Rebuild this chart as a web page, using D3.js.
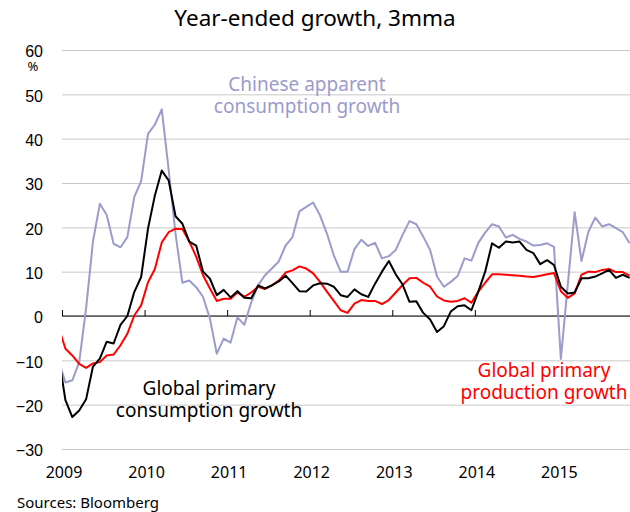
<!DOCTYPE html>
<html>
<head>
<meta charset="utf-8">
<script src="https://cdn.jsdelivr.net/npm/d3@7"></script>
<style>
  body { margin: 0; background: #fff; }
  svg { display: block; font-family: "Noto Sans", sans-serif; }
</style>
</head>
<body>
<svg id="chart" width="630" height="512"></svg>
<script>
// monthly values, Dec 2008 .. Nov 2015 (year-ended growth, 3mma, %)
const firstMonth = { year: 2008, month: 11 };

const china = [-10, -15, -14.5, -10.4, 1.7, 16.8, 25.3, 22.8, 16.3, 15.5, 17.8, 26.8, 30.4,
  41.1, 43.2, 46.6, 33, 18.5, 7.5, 8.0, 6.5, 4.3, -0.6, -8.5, -5.1,
  -6.0, -0.3, -2.0, 3.1, 6.9, 9.2, 10.7, 12.3, 15.9, 17.8, 23.6, 24.6,
  25.6, 22.7, 18.6, 13.7, 10.0, 10.0, 15.1, 17.2, 15.8, 16.5, 13.0, 13.5,
  14.9, 18.3, 21.4, 20.7, 17.9, 14.9, 8.9, 6.6, 7.7, 9.0, 13.0, 12.5,
  16.5, 18.8, 20.7, 20.2, 17.7, 18.3, 17.4, 16.8, 15.9, 16.0, 16.4, 15.6,
  -9.7, 7.0, 23.4, 12.4, 19.0, 22.2, 20.2, 20.7, 19.8, 18.9, 16.4];

const consumption = [-9, -19, -22.8, -21.3, -18.8, -11.4, -9.6, -5.8, -6.2, -2.0, 0, 5.4, 8.8,
  19.7, 27.2, 32.8, 30.6, 22.5, 20.8, 16.8, 15.9, 10.0, 8.4, 4.7, 5.9,
  4.2, 5.6, 4.1, 4.0, 6.9, 6.2, 6.9, 7.8, 9.1, 7.4, 5.6, 5.5,
  6.9, 7.4, 7.3, 6.6, 4.7, 4.3, 6.0, 4.9, 4.3, 7.3, 10.0, 12.4,
  9.4, 7.1, 3.2, 3.3, 0.7, -0.8, -3.6, -2.3, 1.0, 2.2, 2.4, 1.3,
  5.5, 10.0, 16.4, 15.4, 16.8, 16.6, 16.8, 14.9, 14.2, 11.7, 12.6, 11.5,
  6.6, 5.1, 5.3, 8.5, 8.5, 8.9, 9.6, 10.4, 8.6, 9.3, 8.6];

const production = [-2.5, -7.4, -8.9, -10.8, -11.7, -10.7, -10.4, -8.9, -8.7, -6.6, -4.0, 0.1, 2.4,
  7.6, 10.6, 16.6, 18.9, 19.7, 19.6, 16.8, 13.4, 9.2, 6.2, 3.4, 3.9,
  3.9, 5.3, 4.3, 5.3, 6.6, 6.1, 6.9, 8.0, 9.8, 10.3, 11.2, 10.7,
  9.6, 7.7, 5.5, 3.4, 1.3, 0.7, 2.8, 3.6, 3.4, 3.4, 2.7, 3.6,
  5.3, 7.0, 8.5, 8.6, 7.5, 6.6, 4.4, 3.5, 3.2, 3.4, 4.0, 3.0,
  5.5, 7.5, 9.4, 9.4, 9.3, 9.2, 9.1, 8.9, 8.8, 9.1, 9.4, 9.7,
  5.6, 4.1, 5.1, 9.3, 10.0, 9.9, 10.4, 10.6, 9.9, 9.9, 9.1];

const yTicks = [-30, -20, -10, 0, 10, 20, 30, 40, 50, 60];
const yearTicks = [2009, 2010, 2011, 2012, 2013, 2014, 2015];

const W = 630, H = 512;
const plot = { left: 62, right: 630, top: 50, bottom: 449 };

const svg = d3.select('#chart');

const x = d3.scaleLinear().domain([2009, 2016]).range([62, 640]);
const y = d3.scaleLinear().domain([-30, 60]).range([plot.bottom, plot.top]);

// mid-month position of the i-th value
const monthTime = i => firstMonth.year + (firstMonth.month + i + 0.5) / 12;

svg.append('text')
  .attr('x', W / 2).attr('y', 26)
  .attr('text-anchor', 'middle')
  .style('font-size', '22.5px')
  .text('Year-ended growth, 3mma');

// gridlines + y labels
const yAxis = d3.axisLeft(y)
  .tickValues(yTicks)
  .tickSize(-(plot.right - plot.left))
  .tickPadding(19);

const gy = svg.append('g')
  .attr('transform', `translate(${plot.left},0)`)
  .call(yAxis);
gy.select('.domain').remove();
gy.selectAll('.tick line').attr('stroke', '#c8c8c8').attr('stroke-width', 1);
gy.selectAll('.tick text')
  .style('font-size', '16px')
  .attr('fill', '#000')
  .attr('dy', '0.42em');

svg.append('text')
  .attr('x', 33).attr('y', 71)
  .attr('text-anchor', 'middle')
  .style('font-size', '13px')
  .text('%');

// zero line with year ticks
const gx = svg.append('g')
  .attr('transform', `translate(0,${y(0)})`)
  .call(d3.axisTop(x).tickValues(yearTicks).tickSize(6).tickFormat(''));
gx.select('.domain').attr('d', `M${plot.left},0H${plot.right}`).attr('stroke', '#000');
gx.selectAll('.tick line').attr('stroke', '#000');

// year labels along the bottom
svg.append('g').selectAll('text')
  .data(yearTicks)
  .join('text')
  .attr('x', d => x(d) + 2)
  .attr('y', 478)
  .attr('text-anchor', 'middle')
  .style('font-size', '16px')
  .text(d => d);

svg.append('defs').append('clipPath').attr('id', 'plotClip')
  .append('rect')
  .attr('x', plot.left).attr('y', 0)
  .attr('width', plot.right - plot.left).attr('height', H);

const line = d3.line()
  .x((d, i) => x(monthTime(i)))
  .y(d => y(d));

const lines = svg.append('g').attr('clip-path', 'url(#plotClip)');
const series = [
  { values: china, color: '#9b9bcc' },
  { values: production, color: '#ff0000' },
  { values: consumption, color: '#000000' }
];
lines.selectAll('path')
  .data(series)
  .join('path')
  .attr('fill', 'none')
  .attr('stroke', d => d.color)
  .attr('stroke-width', 2)
  .attr('stroke-linejoin', 'round')
  .attr('d', d => line(d.values));

// annotations
function label(lines, cx, y0, color) {
  const t = svg.append('text')
    .attr('text-anchor', 'middle')
    .attr('fill', color)
    .style('font-size', '19px');
  lines.forEach((s, i) => {
    t.append('tspan').attr('x', cx).attr('y', y0 + i * 22).text(s);
  });
}
label(['Chinese apparent', 'consumption growth'], 307, 91, '#9b9bcc');
label(['Global primary', 'consumption growth'], 209, 395, '#000');
label(['Global primary', 'production growth'], 544, 377, '#ff0000');

svg.append('text')
  .attr('x', 17).attr('y', 508)
  .style('font-size', '15px')
  .text('Sources: Bloomberg');
</script>
</body>
</html>
